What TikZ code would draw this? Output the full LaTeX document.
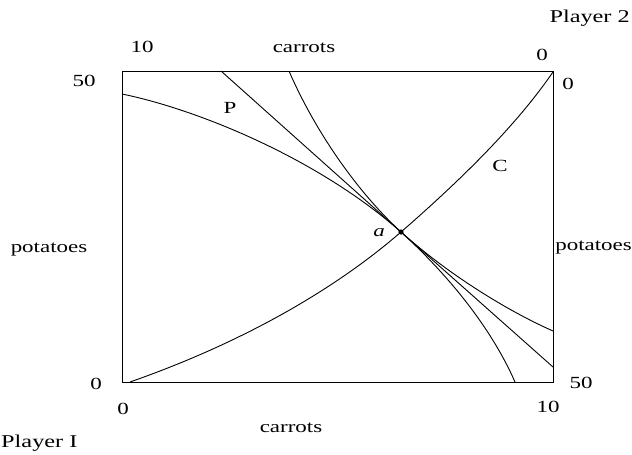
\documentclass[tikz,border=0pt]{standalone}
\usepackage{fontspec}
\setmainfont[FakeStretch=1.35]{Liberation Serif}
\usetikzlibrary{positioning}

\begin{document}
\begin{tikzpicture}[
  x=1pt, y=-1pt,
  every node/.style={font=\fontsize{17}{19}\selectfont, inner sep=0pt, anchor=base},
  player/.style={font=\fontsize{18}{20}\selectfont},
  frame/.style={draw=black, line width=1pt},
  curve/.style={draw=black, line width=0.9pt},
  dot/.style={fill=black}
]
\useasboundingbox (0,0) rectangle (632,455);

% --- EDGEWORTH BOX ---
\coordinate (orig1) at (122,382);
\coordinate (orig2) at (553,71);
\draw[frame] (orig1) rectangle (orig2);

% --- CURVES ---
\coordinate (a) at (401,232);
\coordinate (ptop) at (221,71);
\coordinate (pend) at (553,367);
\draw[curve] (ptop) -- (a) -- (pend);
% P
\draw[curve] (122,94) .. controls (200,110) and (320,160) .. (a)
  .. controls (450,276) and (510,312) .. (553,331);
% other indifference curve
\draw[curve] (289,71) .. controls (310,120) and (350,185) .. (a)
  .. controls (445,272) and (490,325) .. (515,382);
% C
\draw[curve] (130,382) .. controls (250,340) and (340,285) .. (a)
  .. controls (470,172) and (520,120) .. (553,72);
\fill[dot] (a) circle[radius=2.6pt];

% --- LABELS ---
\node (lblP) at (230,113) {P};
\node (lblC) at (500,171) {C};
\node (lbla) at (379,236) {\itshape a};

\node[player, anchor=base east] (pl2) at (630,22) {Player 2};
\node[player, anchor=base west] (pl1) at (1,447) {Player I};

\node (ctop) at (304,52) {carrots};
\node (cbot) at (291,432) {carrots};
\node (potl) at (49,252) {potatoes};
\node[anchor=base east] (potr) at (632,250) {potatoes};

\node (t10) at (142,52) {10};
\node (t0) at (542,60) {0};
\node (l50) at (84,86) {50};
\node (r0) at (568,89) {0};
\node (l0) at (96,389) {0};
\node (r50) at (581,388) {50};
\node (b0) at (123,414) {0};
\node (b10) at (548,412) {10};

\end{tikzpicture}
\end{document}
